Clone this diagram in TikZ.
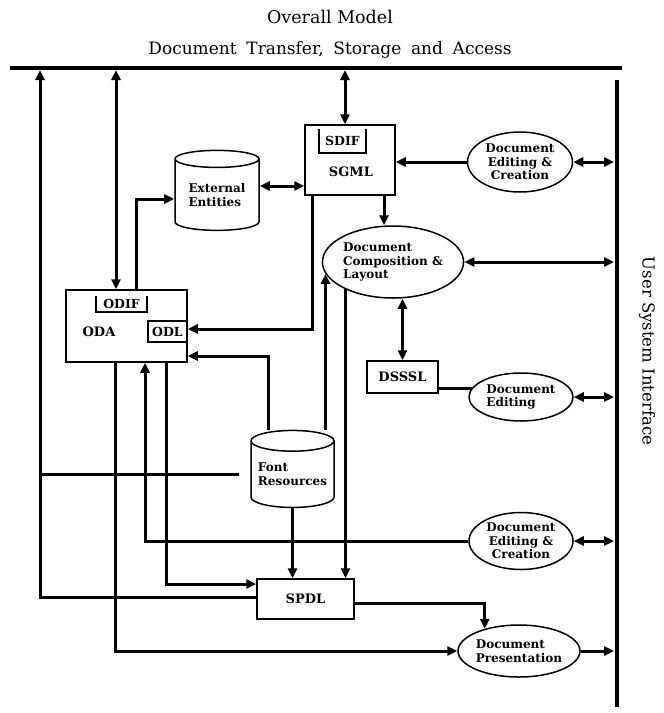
\documentclass[tikz,border=0pt]{standalone}
\usepackage{fontspec}
\setmainfont{DejaVu Serif}
\newfontfamily\widefont{DejaVu Serif}[WordSpace=1.8]
\usepackage{tikz}
\usetikzlibrary{arrows.meta,calc,shapes.geometric}

\tikzset{
  box/.style={draw, line width=1.5pt, fill=white, inner sep=0pt},
  tab/.style={inner sep=0pt, font=\fontsize{12.5}{14}\selectfont\bfseries},
  lbl/.style={inner sep=0pt, font=\fontsize{13}{15}\selectfont\bfseries},
  oval/.style={ellipse, draw, line width=1.5pt, fill=white, inner sep=0pt,
    align=center, font=\fontsize{12}{13.5}\selectfont\bfseries},
  store/.style={cylinder, shape border rotate=90, aspect=0.3, draw,
    line width=1.5pt, fill=white, inner sep=0pt, align=left,
    font=\fontsize{12}{14}\selectfont\bfseries},
  conn/.style={line width=3pt, -{Triangle[length=10pt,width=9pt]}},
  biconn/.style={line width=3pt,
    {Triangle[length=10pt,width=9pt]}-{Triangle[length=10pt,width=9pt]}},
  wire/.style={line width=3pt},
  rail/.style={line width=3.5pt}
}

\begin{document}
\begin{tikzpicture}[x=1pt, y=-1pt]
  \useasboundingbox (0,0) rectangle (664,713);

  \node[font=\fontsize{17.5}{20}\selectfont] (title) at (330,17) {Overall Model};
  \node[font=\widefont\fontsize{17}{20}\selectfont] (area)
    at (330,50) {Document Transfer, Storage and Access};
  \coordinate (railL) at (10,68);
  \coordinate (railR) at (622,68);
  \draw[rail] (railL) -- (railR);
  \coordinate (usiT) at (617,80);
  \coordinate (usiB) at (617,707);
  \draw[rail] (usiT) -- (usiB);
  \node[rotate=-90, font=\fontsize{16.5}{18}\selectfont] (usi) at (647,351)
    {User System Interface};

  % ODA and SGML
  \node[box, minimum width=121pt, minimum height=72pt] (oda) at (126.5,326) {};
  \node[lbl] (odalbl) at (99,332) {ODA};
  \node[tab, minimum width=51pt, minimum height=16pt] (odif) at (121.5,304) {ODIF};
  \draw[line width=1.5pt] (odif.north west) |- (odif.south east) -- (odif.north east);
  \node[box, tab, minimum width=39pt, minimum height=21pt] (odl) at (167.5,331.5) {ODL};

  \node[box, minimum width=90pt, minimum height=70pt] (sgml) at (350,160) {};
  \node[lbl] (sgmllbl) at (351,172) {SGML};
  \node[tab, minimum width=47pt, minimum height=24pt] (sdif) at (342.5,141) {SDIF};
  \draw[line width=1.5pt] (sdif.north west) |- (sdif.south east) -- (sdif.north east);

  \node[store, minimum width=84pt, minimum height=80pt] (ext) at (217,195) {External\\Entities};
  \node[store, minimum width=83pt, minimum height=77pt] (font) at (292.5,474.5) {Font\\Resources};

  \node[oval, minimum width=105pt, minimum height=60pt] (edit1) at (520,162)
    {Document\\Editing \&\\Creation};
  \node[oval, align=left, minimum width=138pt, minimum height=72pt] (comp) at (393,262)
    {Document\\Composition \&\\Layout};
  \node[box, lbl, minimum width=71pt, minimum height=32pt] (dsssl) at (402.5,377) {DSSSL};
  \node[oval, align=left, minimum width=104pt, minimum height=48pt] (edit) at (521,397)
    {Document\\Editing};
  \node[oval, minimum width=104pt, minimum height=57pt] (edit2) at (521,541)
    {Document\\Editing \&\\Creation};
  \node[box, lbl, minimum width=97pt, minimum height=40pt] (spdl) at (305.5,599) {SPDL};
  \node[oval, align=left, minimum width=121pt, minimum height=52pt] (pres) at (519,651)
    {Document\\Presentation};

  % connectors
  \coordinate (busA) at (40,70);
  \coordinate (busB) at (116,70);
  \coordinate (busC) at (345,70);
  \coordinate (usiX) at (614,0);
  \coordinate (compin) at ([xshift=-9pt]comp.north);

  \draw[conn] ([yshift=2pt]spdl.west) -| (busA);
  \draw[wire] ([xshift=-11pt]font.west) -- (font.west -| busA);
  \draw[biconn] (busB) -- (busB |- oda.north);
  \draw[conn] ([xshift=9.5pt]oda.north) |- ([yshift=-4pt]ext.west);
  \draw[biconn] ([yshift=9pt]ext.east) -- ([yshift=9pt]ext.east -| sgml.west);
  \draw[biconn] (busC) -- (busC |- sgml.north);
  \draw[conn] (edit1.west) -- (edit1.west -| sgml.east);
  \draw[biconn] (edit1.east) -- (edit1.east -| usiX);
  \draw[conn] (compin |- sgml.south) -- (compin);
  \draw[conn] ([xshift=-38pt]sgml.south) |- ([yshift=-3pt]oda.east);
  \draw[biconn] (comp.east) -- (comp.east -| usiX);
  \draw[biconn] (dsssl.north) -- (dsssl.north |- comp.south);
  \draw[wire] (edit.170) -- (edit.170 -| dsssl.east);
  \draw[biconn] (edit.east) -- (edit.east -| usiX);
  \draw[conn] (comp.190 |- font.north) -- (comp.190);
  \draw[conn] ([xshift=-24.5pt]font.north) |- ([yshift=-30pt]oda.east);
  \draw[conn] (comp.210) -- (comp.210 |- spdl.north);
  \draw[conn] (font.south) -- (font.south |- spdl.north);
  \draw[conn] ([yshift=-4pt]spdl.east) -| (pres.147);
  \draw[conn] ([xshift=-11.5pt]oda.south) |- (pres.west);
  \draw[conn] (edit2.west) -| ([xshift=18.5pt]oda.south);
  \draw[conn] ([xshift=39.5pt]oda.south) |- ([yshift=15pt]spdl.west);
  \draw[biconn] (edit2.east) -- (edit2.east -| usiX);
  \draw[conn] (pres.east) -- (pres.east -| usiX);
\end{tikzpicture}
\end{document}
